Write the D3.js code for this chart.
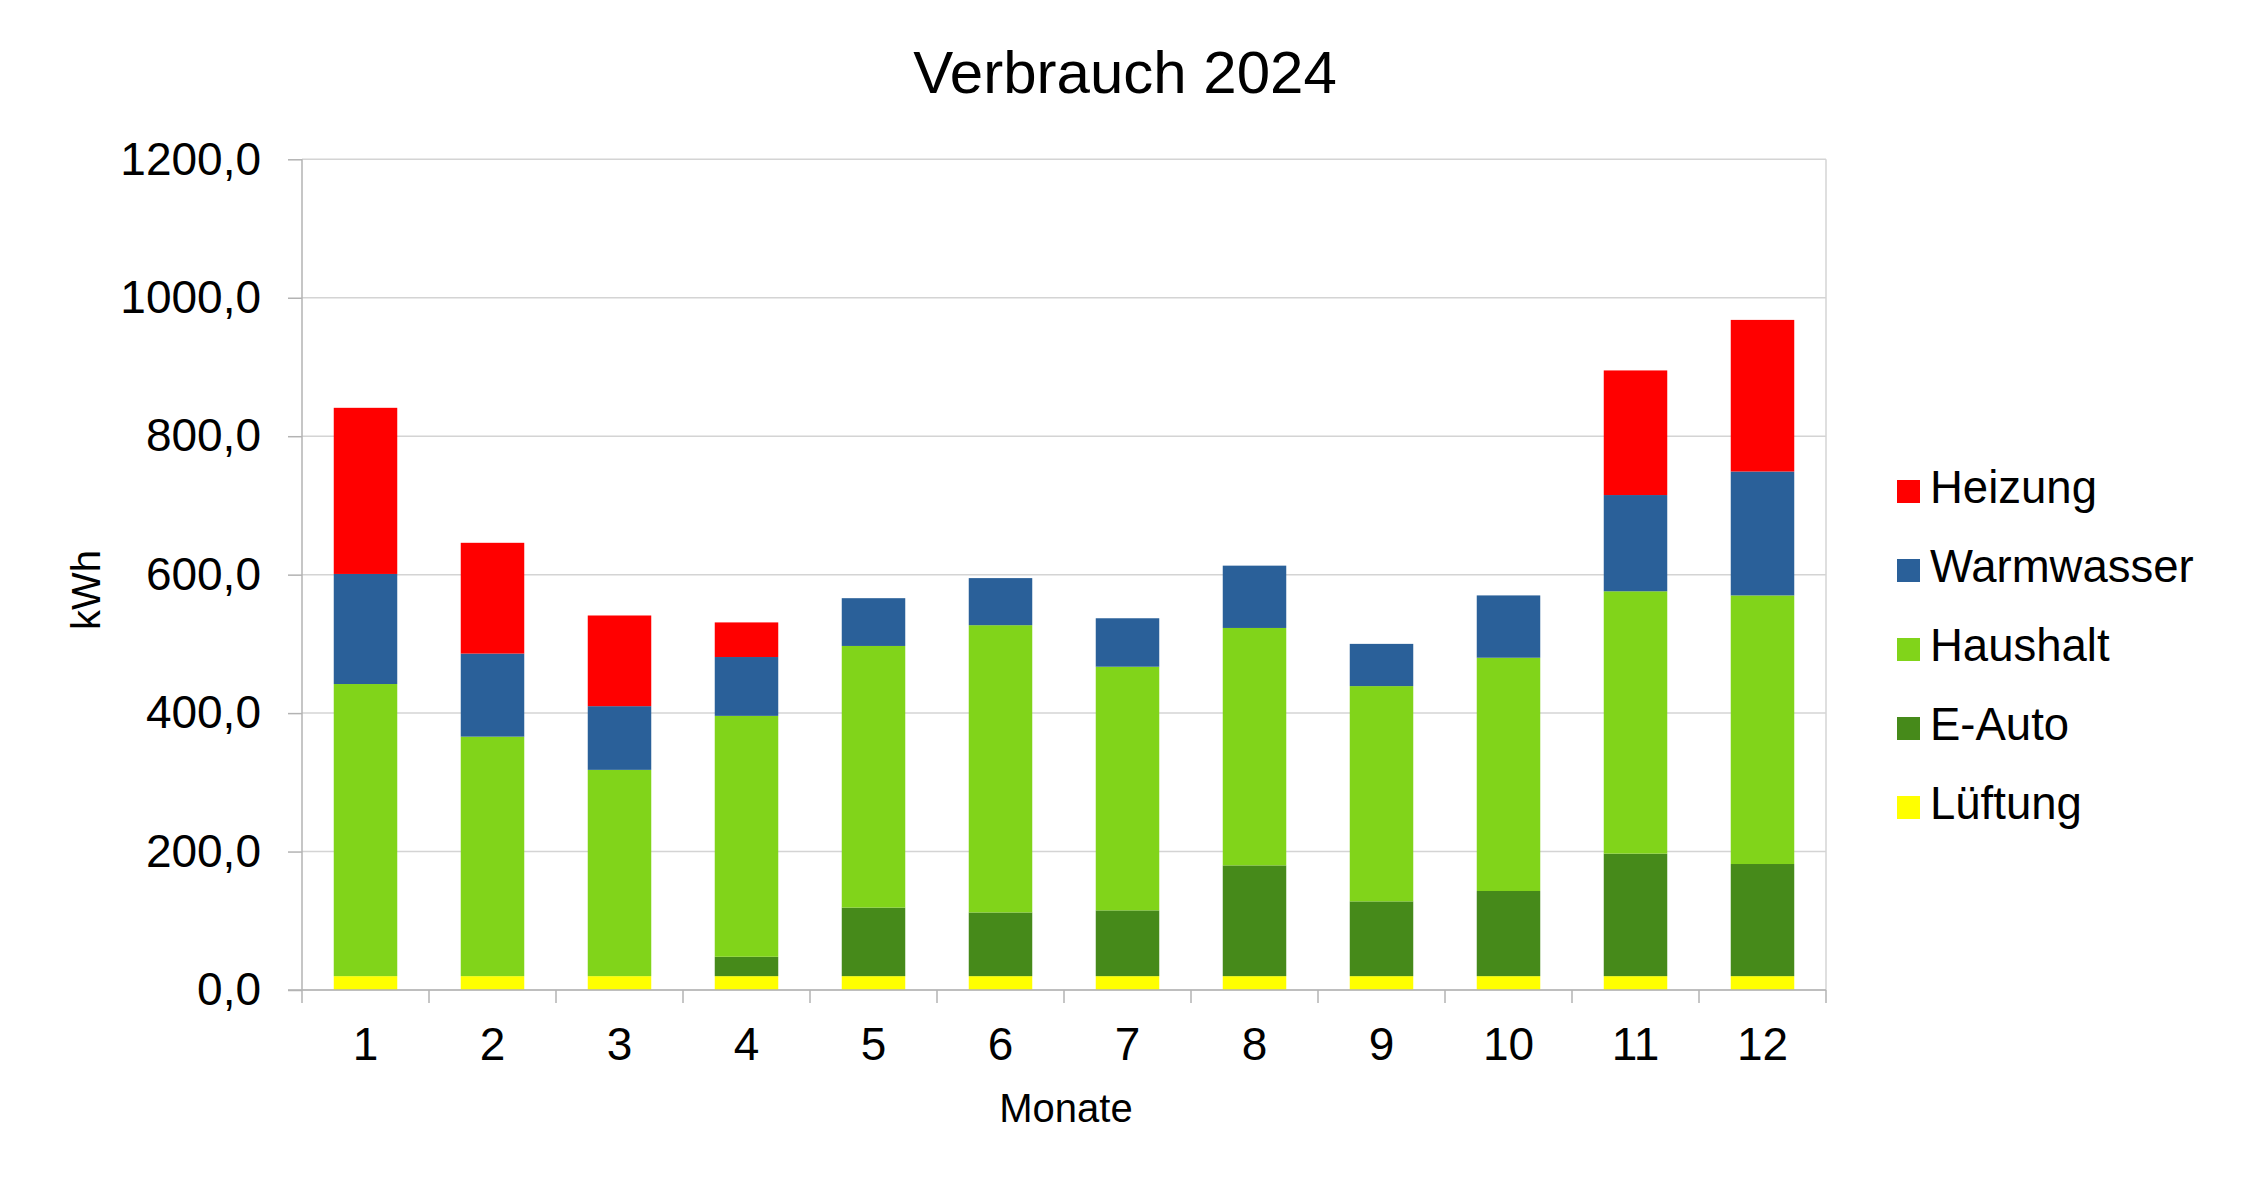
<!DOCTYPE html>
<html>
<head>
<meta charset="utf-8">
<script src="https://cdn.jsdelivr.net/npm/d3@7"></script>
<style>
	body { margin: 0; background: #fff; }
	svg { display: block; font-family: "Liberation Sans", Arial, sans-serif; }
	.axis path, .axis line { stroke: #b3b3b3; }
	.axis text { fill: #000; }
</style>
</head>
<body>
<div id="chart"></div>
<script>
'use strict';

// data
var months = ["1", "2", "3", "4", "5", "6", "7", "8", "9", "10", "11", "12"];
var lueftung   = [20, 20, 20, 20, 20, 20, 20, 20, 20, 20, 20, 20];
var eAuto      = [0, 0, 0, 28, 99, 92, 95, 160, 108, 123, 177, 162];
var haushalt   = [422, 346, 298, 348, 378, 415, 352, 343, 311, 337, 379, 388];
var warmwasser = [159, 120, 92, 85, 69, 68, 70, 90, 61, 90, 139, 179];
var heizung    = [240, 160, 131, 50, 0, 0, 0, 0, 0, 0, 180, 219];
var yTicks = [0, 200, 400, 600, 800, 1000, 1200];

var seriesNames = ["Lüftung", "E-Auto", "Haushalt", "Warmwasser", "Heizung"];
var seriesValues = [lueftung, eAuto, haushalt, warmwasser, heizung];
var seriesColors = ["#ffff00", "#468a1a", "#81d41a", "#2a6099", "#ff0000"];

var W = 2250, H = 1196;
var plot = { left: 302, right: 1826, top: 159.3, bottom: 990 };

// rows for d3.stack
var rows = months.map(function(m, i) {
	var r = { month: m };
	seriesNames.forEach(function(s, k) { r[s] = seriesValues[k][i]; });
	return r;
});

var stacked = d3.stack().keys(seriesNames)(rows);

var x = d3.scaleBand()
		  .domain(months)
		  .range([plot.left, plot.right])
		  .paddingInner(0.5)
		  .paddingOuter(0.25);

var y = d3.scaleLinear()
		  .domain([0, 1200])
		  .range([plot.bottom, plot.top]);

var color = d3.scaleOrdinal().domain(seriesNames).range(seriesColors);

var svg = d3.select("#chart")
			.append("svg")
			.attr("width", W)
			.attr("height", H);

// grid
svg.append("g")
   .selectAll("line")
   .data(yTicks)
   .join("line")
   .attr("x1", plot.left)
   .attr("x2", plot.right)
   .attr("y1", function(d) { return y(d); })
   .attr("y2", function(d) { return y(d); })
   .attr("stroke", "#d4d4d4")
   .attr("stroke-width", 1.5);

// right border
svg.append("line")
   .attr("x1", plot.right).attr("x2", plot.right)
   .attr("y1", plot.top).attr("y2", plot.bottom)
   .attr("stroke", "#d4d4d4")
   .attr("stroke-width", 1.5);

// bars
svg.append("g")
   .selectAll("g")
   .data(stacked)
   .join("g")
   .attr("fill", function(d) { return color(d.key); })
   .selectAll("rect")
   .data(function(d) { return d; })
   .join("rect")
   .attr("x", function(d) { return x(d.data.month); })
   .attr("width", x.bandwidth())
   .attr("y", function(d) { return y(d[1]); })
   .attr("height", function(d) { return y(d[0]) - y(d[1]); });

// y axis
var fmt = function(d) { return d3.format(".1f")(d).replace(".", ","); };

var yAxis = svg.append("g")
			   .attr("class", "axis")
			   .attr("transform", `translate(${plot.left},0)`)
			   .call(d3.axisLeft(y).tickValues(yTicks).tickSize(14).tickPadding(27).tickFormat(fmt));
yAxis.selectAll("text").attr("font-size", 46);
yAxis.selectAll("line, path").attr("stroke-width", 1.5);
yAxis.select(".domain").attr("d", `M0,${plot.top}V${plot.bottom}`);

// x axis
var xAxis = svg.append("g")
			   .attr("class", "axis")
			   .attr("transform", `translate(0,${plot.bottom})`)
			   .call(d3.axisBottom(x).tickSize(0).tickPadding(37));
xAxis.selectAll("text").attr("font-size", 46);
xAxis.select(".domain").attr("d", `M${plot.left - 14},0H${plot.right}`).attr("stroke-width", 1.5);

// category boundary ticks
var bounds = months.map(function(m) { return x(m) - x.step() * x.paddingInner() / 2; });
bounds.push(plot.right);
xAxis.selectAll(".bound")
	 .data(bounds)
	 .join("line")
	 .attr("class", "bound")
	 .attr("x1", function(d) { return d; })
	 .attr("x2", function(d) { return d; })
	 .attr("y1", 0)
	 .attr("y2", 13)
	 .attr("stroke", "#b3b3b3")
	 .attr("stroke-width", 1.5);

// titles
svg.append("text")
   .attr("x", 1125).attr("y", 93)
   .attr("text-anchor", "middle")
   .attr("font-size", 60)
   .text("Verbrauch 2024");

svg.append("text")
   .attr("x", 1066).attr("y", 1122)
   .attr("text-anchor", "middle")
   .attr("font-size", 40)
   .text("Monate");

svg.append("text")
   .attr("transform", "translate(100,590) rotate(-90)")
   .attr("text-anchor", "middle")
   .attr("font-size", 40)
   .text("kWh");

// legend, top series first
var legendItems = seriesNames.slice().reverse();
var legend = svg.append("g")
				.selectAll("g")
				.data(legendItems)
				.join("g")
				.attr("transform", function(d, i) { return `translate(1897,${503 + i * 79})`; });

legend.append("rect")
	  .attr("x", 0).attr("y", -23)
	  .attr("width", 23).attr("height", 23)
	  .attr("fill", function(d) { return color(d); });

legend.append("text")
	  .attr("x", 33).attr("y", 0)
	  .attr("font-size", 45.5)
	  .text(function(d) { return d; });
</script>
</body>
</html>
